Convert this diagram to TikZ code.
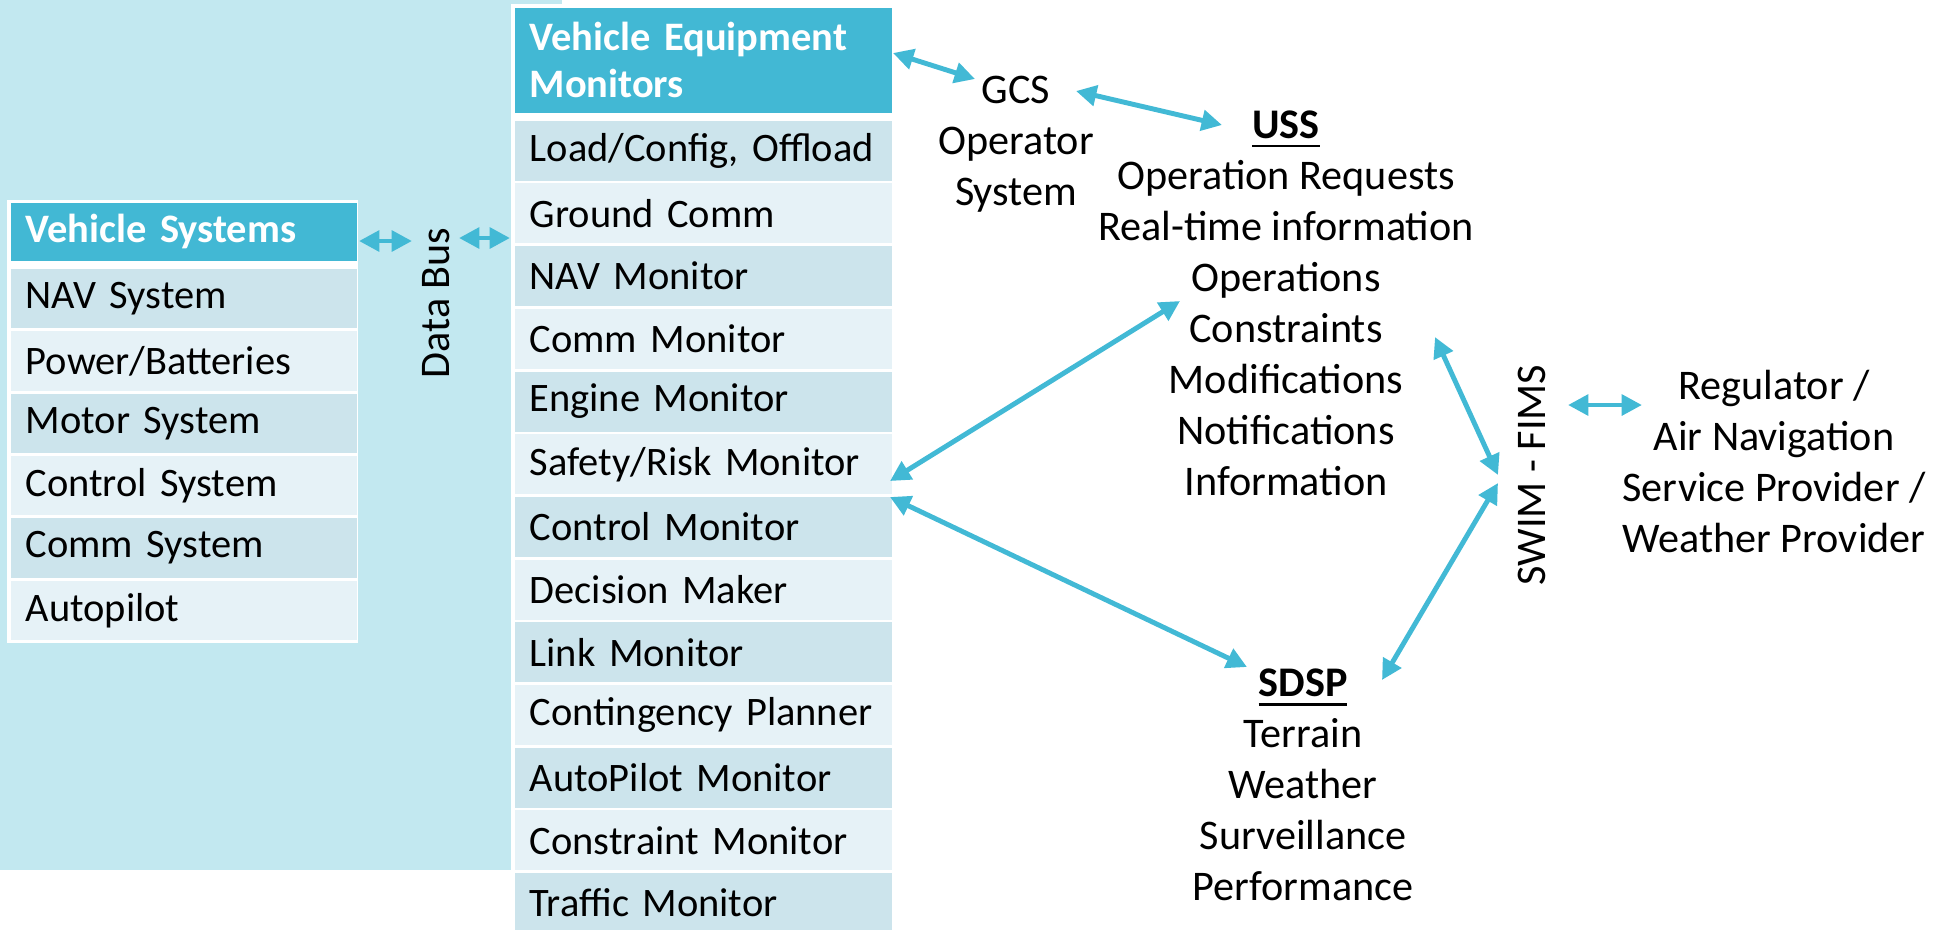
\documentclass[tikz,border=0pt]{standalone}
\usepackage{fontspec}
\setmainfont{Carlito}
\usetikzlibrary{arrows.meta}

\definecolor{panelbg}{RGB}{194,232,240}
\definecolor{headfill}{RGB}{66,184,212}
\definecolor{rowdark}{RGB}{204,228,236}
\definecolor{rowlight}{RGB}{230,242,247}
\definecolor{linkc}{RGB}{66,185,213}

\newcommand{\headul}[1]{\setbox0=\hbox{\bfseries #1}\rlap{\rule[-2.6pt]{\wd0}{0.8pt}}\box0}

\tikzset{
	cell/.style={anchor=north west, inner xsep=0.15cm, inner ysep=0pt, align=left, font=\fontsize{11.5}{13.4}\selectfont},
	vscell/.style={cell, text width=3.16cm, minimum width=3.46cm, minimum height=0.595cm},
	vemcell/.style={cell, text width=3.47cm, minimum width=3.77cm, minimum height=0.6cm},
	headcell/.style={fill=headfill, text=white, font=\fontsize{11.5}{13.4}\selectfont\bfseries},
	darkrow/.style={fill=rowdark},
	lightrow/.style={fill=rowlight},
	infotext/.style={align=center, font=\fontsize{12}{14.5}\selectfont},
	link/.style={draw=linkc, line width=1.4pt, {Triangle[length=5.8pt,width=5.8pt]}-{Triangle[length=5.8pt,width=5.8pt]}}
}

\begin{document}
\begin{tikzpicture}[x=0.01cm, y=-0.01cm]
	\clip (0,0) rectangle (1948,929);
	% 背景
	\fill[panelbg] (0,0) rectangle (562,870);
	\fill[white] (7,200) rectangle (358,643);
	\fill[white] (511,4) rectangle (893,940);
	% 左表 Vehicle Systems
	\node[vscell, headcell, minimum height=0.58cm] (vshead) at (10,202) {Vehicle Systems};
	\node[vscell, darkrow] (vs1) at (10,268) {NAV System};
	\node[vscell, lightrow] (vs2) at (10,330.4) {Power/Batteries};
	\node[vscell, darkrow] (vs3) at (10,392.8) {Motor System};
	\node[vscell, lightrow] (vs4) at (10,455.2) {Control System};
	\node[vscell, darkrow] (vs5) at (10,517.6) {Comm System};
	\node[vscell, lightrow] (vs6) at (10,580) {Autopilot};
	% 右表 Vehicle Equipment Monitors
	\node[vemcell, headcell, minimum height=1.05cm] (vemhead) at (514,7) {Vehicle Equipment\\Monitors};
	\node[vemcell, darkrow] (vem1) at (514,120) {Load/Config, Offload};
	\node[vemcell, lightrow] (vem2) at (514,182.7) {Ground Comm};
	\node[vemcell, darkrow] (vem3) at (514,245.4) {NAV Monitor};
	\node[vemcell, lightrow] (vem4) at (514,308.1) {Comm Monitor};
	\node[vemcell, darkrow] (vem5) at (514,370.8) {Engine Monitor};
	\node[vemcell, lightrow] (vem6) at (514,433.5) {Safety/Risk Monitor};
	\node[vemcell, darkrow] (vem7) at (514,496.2) {Control Monitor};
	\node[vemcell, lightrow] (vem8) at (514,558.9) {Decision Maker};
	\node[vemcell, darkrow] (vem9) at (514,621.6) {Link Monitor};
	\node[vemcell, lightrow] (vem10) at (514,684.3) {Contingency Planner};
	\node[vemcell, darkrow] (vem11) at (514,747) {AutoPilot Monitor};
	\node[vemcell, lightrow] (vem12) at (514,809.7) {Constraint Monitor};
	\node[vemcell, darkrow] (vem13) at (514,872.4) {Traffic Monitor};
	% 文字
	\node[infotext, rotate=90] (bus) at (436,303) {Data Bus};
	\node[infotext] (gcs) at (1016,144) {GCS\\Operator\\System};
	\node[infotext] (uss) at (1286,303) {\headul{USS}\\Operation Requests\\Real-time information\\Operations\\Constraints\\Modifications\\Notifications\\Information};
	\node[infotext] (sdsp) at (1303,785) {\headul{SDSP}\\Terrain\\Weather\\Surveillance\\Performance};
	\node[infotext, rotate=90] (swim) at (1532,475) {SWIM - FIMS};
	\node[infotext] (reg) at (1774,461) {Regulator /\\Air Navigation\\Service Provider /\\Weather Provider};
	% 箭头端点
	\coordinate (vsR) at (359,241);
	\coordinate (busL) at (412,241);
	\coordinate (busR) at (459,238);
	\coordinate (vemL) at (510,238);
	\coordinate (vemR) at (893,53);
	\coordinate (gcsL) at (975,79);
	\coordinate (gcsR) at (1076,91);
	\coordinate (ussL) at (1222,125);
	\coordinate (safetyR) at (890,481);
	\coordinate (ussB) at (1180,301);
	\coordinate (controlR) at (890,497);
	\coordinate (sdspL) at (1247,667);
	\coordinate (ussR) at (1435,337);
	\coordinate (swimT) at (1498,475);
	\coordinate (sdspR) at (1382,680);
	\coordinate (swimB) at (1498,483);
	\coordinate (swimR) at (1568,405);
	\coordinate (regL) at (1642,405);
	% 箭头
	\draw[link] (vsR) -- (busL);
	\draw[link] (busR) -- (vemL);
	\draw[link] (vemR) -- (gcsL);
	\draw[link] (gcsR) -- (ussL);
	\draw[link] (safetyR) -- (ussB);
	\draw[link] (controlR) -- (sdspL);
	\draw[link] (ussR) -- (swimT);
	\draw[link] (sdspR) -- (swimB);
	\draw[link] (swimR) -- (regL);
\end{tikzpicture}
\end{document}
